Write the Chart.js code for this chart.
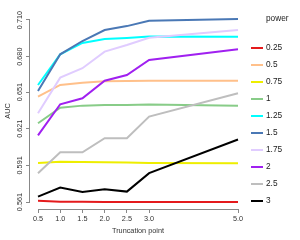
<!DOCTYPE html>
<html>
<head>
<meta charset="utf-8">
<script src="https://cdn.jsdelivr.net/npm/chart.js@4"></script>
<style>
html, body { margin: 0; padding: 0; background: #fff; }
</style>
</head>
<body>
<canvas id="aucChart" width="300" height="240"></canvas>
<script>
// truncation points on the x axis
const truncation = [0.5, 1.0, 1.5, 2.0, 2.5, 3.0, 5.0];
const powers = ['0.25', '0.5', '0.75', '1', '1.25', '1.5', '1.75', '2', '2.5', '3'];
const powerColors = ['#e41a1c', '#ffc08a', '#eeee00', '#88cc88', '#00ffff',
                     '#4a78b5', '#e0ccff', '#a020f0', '#bebebe', '#000000'];

// AUC per power
const auc025 = [0.5621, 0.5613, 0.5612, 0.5611, 0.5611, 0.5611, 0.5610];
const auc050 = [0.6472, 0.6568, 0.6587, 0.6598, 0.6601, 0.6603, 0.6603];
const auc075 = [0.5930, 0.5940, 0.5938, 0.5935, 0.5933, 0.5930, 0.5927];
const auc100 = [0.6255, 0.6382, 0.6399, 0.6404, 0.6404, 0.6408, 0.6399];
const auc125 = [0.6568, 0.6819, 0.6912, 0.6945, 0.6953, 0.6965, 0.6963];
const auc150 = [0.6519, 0.6819, 0.6928, 0.7018, 0.7050, 0.7094, 0.7108];
const auc175 = [0.6336, 0.6628, 0.6705, 0.6841, 0.6895, 0.6955, 0.7018];
const auc200 = [0.6155, 0.6410, 0.6459, 0.6603, 0.6650, 0.6773, 0.6860];
const auc250 = [0.5845, 0.6017, 0.6017, 0.6132, 0.6132, 0.6309, 0.6500];
const auc300 = [0.5654, 0.5728, 0.5692, 0.5715, 0.5695, 0.5846, 0.6122];
const aucSeries = [auc025, auc050, auc075, auc100, auc125, auc150, auc175, auc200, auc250, auc300];

const xTicks = [0.5, 1.0, 1.5, 2.0, 2.5, 3.0, 5.0];
const yTicks = [0.561, 0.591, 0.621, 0.651, 0.680, 0.710];

const FONT = '"Liberation Sans", Arial, sans-serif';
Chart.defaults.font.family = FONT;

const datasets = aucSeries.map((vals, i) => ({
    label: powers[i],
    data: vals.map((v, j) => ({ x: truncation[j], y: v })),
    borderColor: powerColors[i],
    backgroundColor: powerColors[i],
    borderWidth: 2,
    pointRadius: 0,
    tension: 0,
    fill: false,
    order: -i   // later powers drawn on top, like R
}));

// R style axis lines that stop at first/last tick
const axisLines = {
    id: 'axisLines',
    afterDraw(chart) {
        const { x, y } = chart.scales;
        const ctx = chart.ctx;
        const area = chart.chartArea;
        ctx.save();
        ctx.strokeStyle = '#888';
        ctx.lineWidth = 1;
        ctx.beginPath();
        ctx.moveTo(x.getPixelForValue(xTicks[0]), area.bottom + 0.5);
        ctx.lineTo(x.getPixelForValue(xTicks[xTicks.length - 1]), area.bottom + 0.5);
        ctx.moveTo(area.left - 0.5, y.getPixelForValue(yTicks[0]));
        ctx.lineTo(area.left - 0.5, y.getPixelForValue(yTicks[yTicks.length - 1]));
        ctx.stroke();
        ctx.restore();
    }
};

// legend on the right with a title
const sideLegend = {
    id: 'sideLegend',
    afterDraw(chart) {
        const ctx = chart.ctx;
        ctx.save();
        ctx.font = '8.3px ' + FONT;
        ctx.fillStyle = '#222';
        ctx.textAlign = 'left';
        ctx.textBaseline = 'middle';
        ctx.fillText('power', 266, 19);
        chart.data.datasets.forEach((ds, i) => {
            const ly = 48 + i * 17;
            ctx.strokeStyle = ds.borderColor;
            ctx.lineWidth = 2;
            ctx.beginPath();
            ctx.moveTo(251, ly);
            ctx.lineTo(263, ly);
            ctx.stroke();
            ctx.fillText(ds.label, 266, ly);
        });
        ctx.restore();
    }
};

const ctx = document.getElementById('aucChart').getContext('2d');
const aucChart = new Chart(ctx, {
    type: 'line',
    data: { datasets: datasets },
    options: {
        responsive: false,
        animation: false,
        events: [],
        layout: { padding: { top: 13, right: 54, left: 0, bottom: 0 } },
        plugins: {
            legend: { display: false },
            tooltip: { enabled: false }
        },
        scales: {
            x: {
                type: 'linear',
                min: 0.32,
                max: 5.18,
                afterBuildTicks: (axis) => { axis.ticks = xTicks.map(v => ({ value: v })); },
                afterFit: (s) => { s.height = 31; },
                ticks: {
                    autoSkip: false,
                    maxRotation: 0,
                    padding: 2,
                    color: '#333',
                    font: { size: 7.3 },
                    callback: (v) => Number(v).toFixed(1)
                },
                grid: { drawOnChartArea: false, tickLength: 4, color: '#888' },
                border: { display: false },
                title: {
                    display: true,
                    text: 'Truncation point',
                    color: '#333',
                    font: { size: 7.3 },
                    padding: { top: 0, bottom: 5 }
                }
            },
            y: {
                min: 0.55527,
                max: 0.71573,
                afterBuildTicks: (axis) => { axis.ticks = yTicks.map(v => ({ value: v })); },
                afterFit: (s) => { s.width = 30; },
                ticks: {
                    autoSkip: false,
                    minRotation: 90,
                    maxRotation: 90,
                    crossAlign: 'center',
                    padding: -3.5,
                    color: '#333',
                    font: { size: 7.3 },
                    callback: (v) => Number(v).toFixed(3)
                },
                grid: { drawOnChartArea: false, tickLength: 4, color: '#888' },
                border: { display: false },
                title: {
                    display: true,
                    text: 'AUC',
                    color: '#333',
                    font: { size: 7.3 },
                    padding: { top: 3.6, bottom: 0 }
                }
            }
        }
    },
    plugins: [axisLines, sideLegend]
});
</script>
</body>
</html>
